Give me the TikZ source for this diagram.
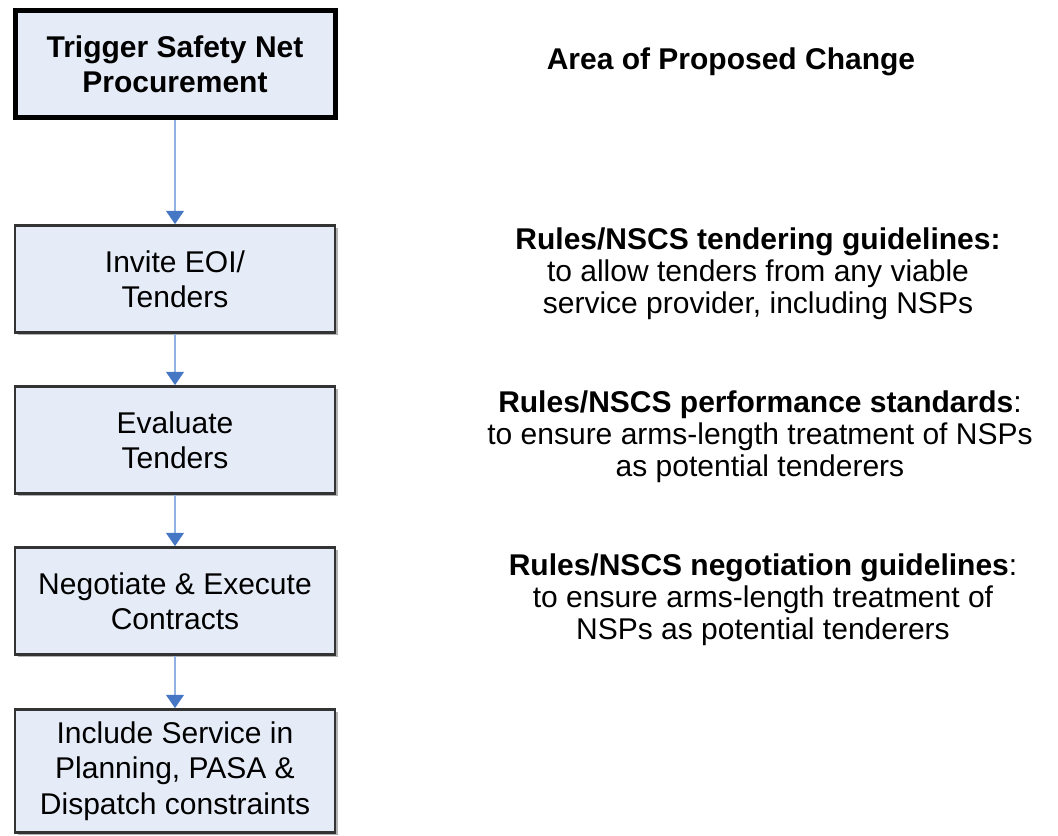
\documentclass[tikz,border=0pt]{standalone}
\usepackage{fontspec}
\setmainfont{Liberation Sans}
\usetikzlibrary{arrows.meta,shadows}
\definecolor{boxfill}{HTML}{E6ECF7}
\definecolor{boxline}{HTML}{333333}
\definecolor{flowline}{HTML}{8FB3E2}
\definecolor{flowhead}{HTML}{4677C4}
\tikzset{
  stage/.style={draw=boxline, line width=2.2pt, fill=boxfill,
    minimum width=240pt, minimum height=80pt, align=center,
    font=\fontsize{22.5}{26.5}\selectfont,
    drop shadow={shadow xshift=2pt, shadow yshift=-2pt, fill=black!30, opacity=1}},
  trigger/.style={stage, draw=black, line width=3.75pt, font=\bfseries\fontsize{22.5}{26.5}\selectfont},
  change/.style={align=center, font=\fontsize{22.5}{24}\selectfont},
  flow/.style={draw=flowline, line width=2.2pt,
    -{Triangle[width=13pt,length=10pt,color=flowhead]}}
}
\begin{document}
\begin{tikzpicture}[x=0.75pt,y=-0.75pt]
  \useasboundingbox (0,0) rectangle (1058,836);
  % flow of the procurement
  \node[trigger] (b1) at (175,64) {Trigger Safety Net\\Procurement};
  \node[stage] (b2) at (175,279) {Invite EOI/\\Tenders};
  \node[stage] (b3) at (175,440) {Evaluate\\Tenders};
  \node[stage] (b4) at (175,601) {Negotiate \& Execute\\Contracts};
  \node[stage, minimum height=92pt] (b5) at (175,771) {Include Service in\\Planning, PASA \&\\Dispatch constraints};
  \draw[flow] (b1) -- (b2);
  \draw[flow] (b2) -- (b3);
  \draw[flow] (b3) -- (b4);
  \draw[flow] (b4) -- (b5);
  % proposed changes
  \node[change, font=\bfseries\fontsize{22.5}{24}\selectfont] (area) at (731,62) {Area of Proposed Change};
  \node[change] (tender) at (758,274) {\textbf{Rules/NSCS tendering guidelines:}\\to allow tenders from any viable\\service provider, including NSPs};
  \node[change] (perform) at (760,437) {\textbf{Rules/NSCS performance standards}:\\to ensure arms-length treatment of NSPs\\as potential tenderers};
  \node[change] (negot) at (763,600) {\textbf{Rules/NSCS negotiation guidelines}:\\to ensure arms-length treatment of\\NSPs as potential tenderers};
\end{tikzpicture}
\end{document}
